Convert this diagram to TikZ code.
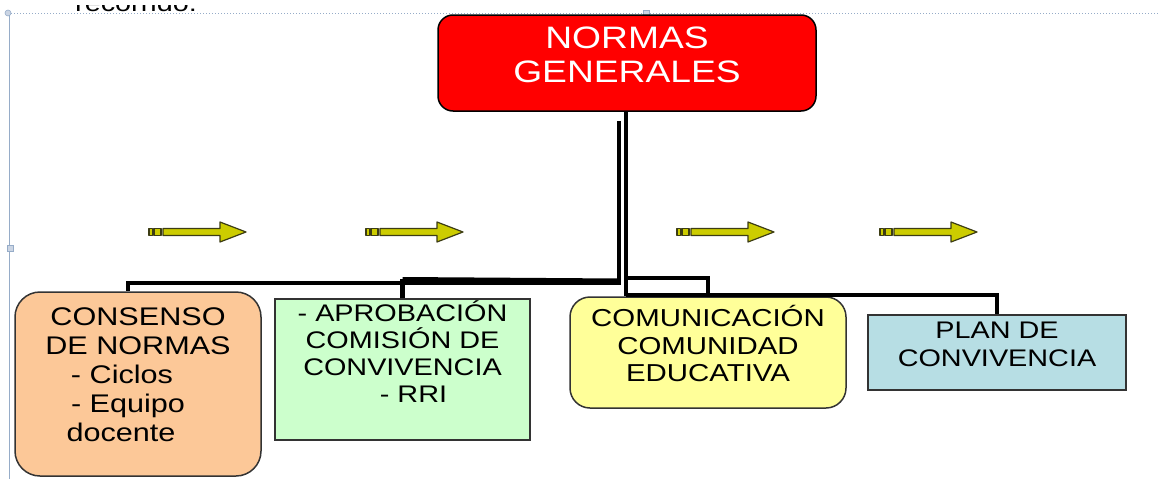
\documentclass[tikz,border=0pt]{standalone}
\usepackage{fontspec}
\setmainfont[FakeStretch=1.2]{Liberation Sans}
\usetikzlibrary{calc}
\definecolor{rootred}{RGB}{255,0,0}
\definecolor{boxorange}{RGB}{252,200,152}
\definecolor{boxgreen}{RGB}{204,255,204}
\definecolor{boxyellow}{RGB}{255,255,153}
\definecolor{boxblue}{RGB}{183,222,228}
\definecolor{arrowfill}{RGB}{204,204,0}
\definecolor{arrowline}{RGB}{60,60,20}
\definecolor{selline}{RGB}{150,172,200}
\newcommand\tgap[1]{\rule{#1}{0pt}}
\tikzset{
  box/.style={draw=black!80, line width=1.5pt, align=center, inner sep=0pt,
    font=\fontsize{24}{27.5}\selectfont},
  conn/.style={line width=4.5pt, black},
  arrowpart/.style={draw=arrowline, fill=arrowfill, line width=1.2pt, line join=round},
  yarrow/.pic={
    \path[arrowpart] (0,-3.5) rectangle (3.5,3.5);
    \path[arrowpart] (5,-3.5) rectangle (12,3.5);
    \path[arrowpart] (14,-3.5) -- (71,-3.5) -- (71,-10) -- (97,0) -- (71,10) -- (71,3.5) -- (14,3.5) -- cycle;
  },
  handle/.style={draw=selline, fill=selline!50, line width=0.6pt}
}
\begin{document}
\begin{tikzpicture}[x=1pt,y=-1pt]
\useasboundingbox (0,0) rectangle (1158,479);
% partially visible heading at the top edge
\begin{scope}
  \clip (0,5) rectangle (1158,11.5);
  \node[anchor=base west, inner sep=0pt, font=\fontsize{24}{24}\selectfont] (cut) at (75,11) {recorrido:};
\end{scope}
% selection frame
\draw[selline, dotted, line width=1pt] (8,13) -- (1158,13);
\draw[selline, line width=1pt] (9,13) -- (9,479);
\path[handle] (8,13) circle (3);
\path[handle] (643,10) rectangle (649,16);
\path[handle] (7,245) rectangle (13,251);

% boxes
\node[box, draw=black, fill=rootred, text=white, rounded corners=15pt,
      minimum width=378pt, minimum height=96pt, font=\fontsize{31}{34}\selectfont]
      (root) at (627,63) {NORMAS\\GENERALES\\[-18pt]\mbox{}};
\node[box, fill=boxorange, rounded corners=25pt, minimum width=246pt, minimum height=184pt,
      font=\fontsize{25.5}{29}\selectfont]
      (orange) at (138,384) {CONSENSO\\DE NORMAS\\- Ciclos\tgap{32pt}\\- Equipo\tgap{20pt}\\docente\tgap{34pt}\\[-11pt]\mbox{}};
\node[box, fill=boxgreen, minimum width=255pt, minimum height=141pt,
      font=\fontsize{24}{27}\selectfont]
      (green) at (402.5,369.5) {- APROBACIÓN\\COMISIÓN DE\\CONVIVENCIA\\\tgap{22pt}- RRI\\[8pt]\mbox{}};
\node[box, fill=boxyellow, rounded corners=20pt, minimum width=276pt, minimum height=111pt,
      font=\fontsize{24.5}{27.5}\selectfont]
      (yellow) at (708,352.5) {COMUNICACIÓN\\COMUNIDAD\\EDUCATIVA\\[-10pt]\mbox{}};
\node[box, fill=boxblue, minimum width=258pt, minimum height=75pt]
      (blue) at (997,352.5) {PLAN DE\\CONVIVENCIA\\[-11pt]\mbox{}};

% connectors
\draw[conn] ([xshift=-1pt]root.south) -- ([xshift=-1pt]root.south |- yellow.north);
\draw[conn] ($(root.south)+(-1,166)$) -| (yellow.north);
\draw[conn] ($(root.south)+(-1,183)$) -| (blue.north);
\draw[conn] ($(root.south)+(-8,9)$) -- ($(root.south)+(-8,171)$) -| ([xshift=-10pt]orange.north);
\draw[conn] (green.north) -- ($(green.north)+(0,-19)$);
\draw[conn] ($(green.north)+(0,-19)$) -- ($(root.south)+(-8,169)$);

% decorative arrows
\pic at (149,232) {yarrow};
\pic at (366,232) {yarrow};
\pic at (677,232) {yarrow};
\pic at (880,232) {yarrow};
\end{tikzpicture}
\end{document}
